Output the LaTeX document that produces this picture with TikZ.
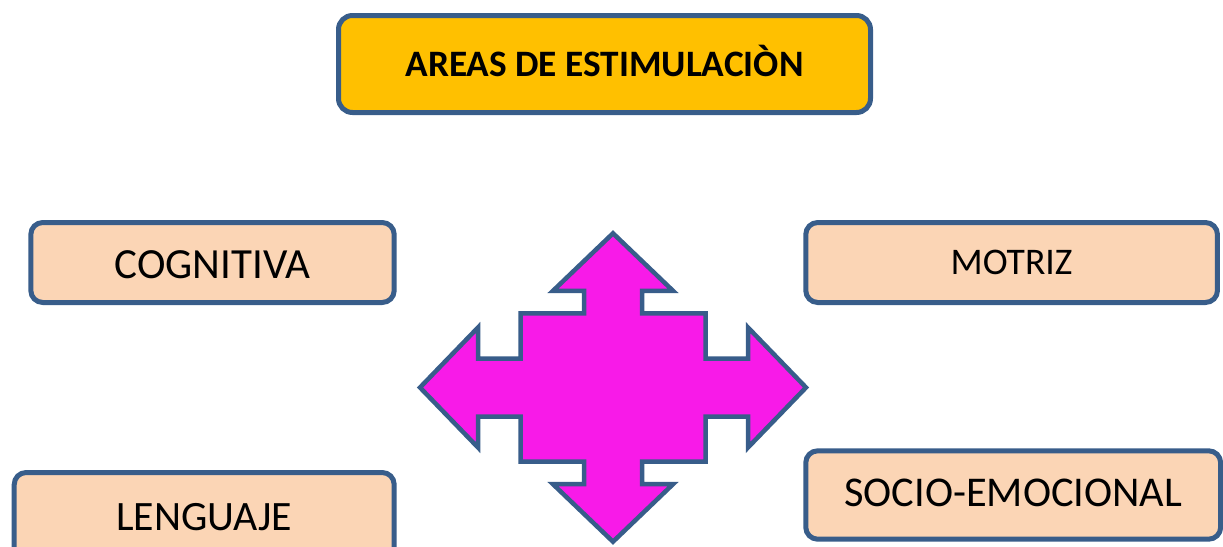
\documentclass[tikz,border=0pt]{standalone}
\usepackage{fontspec}
\setmainfont{Carlito}
\definecolor{edgeblue}{RGB}{56,93,138}
\definecolor{peach}{RGB}{251,213,181}
\definecolor{gold}{RGB}{255,192,0}
\definecolor{magentafill}{RGB}{248,26,232}
\tikzset{
  areabox/.style={draw=edgeblue, line width=5pt, fill=peach, rounded corners=12pt,
    inner sep=0pt, text depth=0pt},
  titlebox/.style={draw=edgeblue, line width=5pt, fill=gold, rounded corners=14pt,
    inner sep=0pt, text height=24pt, text depth=0pt,
    font=\fontsize{37.3}{37.3}\selectfont\bfseries},
  crossshape/.style={draw=edgeblue, line width=4.5pt, fill=magentafill, line join=miter}
}
\begin{document}
\begin{tikzpicture}[x=1pt,y=-1pt]
\clip (0,0) rectangle (1223,546);
\fill[white] (0,0) rectangle (1223,546);

\node[titlebox, minimum width=532pt, minimum height=97pt] (title) at (604.5,64) {AREAS DE ESTIMULACIÒN};

\node[areabox, minimum width=363.4pt, minimum height=80pt, text height=27.7pt,
  font=\fontsize{43}{43}\selectfont] (cog) at (212.5,262.5) {\raisebox{-2.5pt}{COGNITIVA}};
\node[areabox, minimum width=411.7pt, minimum height=80pt, text height=24.2pt,
  font=\fontsize{37.6}{37.6}\selectfont] (mot) at (1011.6,262.5) {MOTRIZ};
\node[areabox, minimum width=414.9pt, minimum height=88.4pt, text height=27.4pt,
  font=\fontsize{42.4}{42.4}\selectfont] (soc) at (1013.2,495) {\raisebox{2.5pt}{SOCIO-EMOCIONAL}};
\node[areabox, minimum width=380pt, minimum height=88pt, text height=27pt,
  font=\fontsize{41.8}{41.8}\selectfont] (len) at (204.2,516.5) {LENGUAJE};

\begin{scope}[shift={(613,387.5)}]
\draw[crossshape] (0,-154.2) -- (60,-96.7) -- (29,-96.7) -- (29,-74.2) -- (92.5,-74.2) -- (92.5,-29)
  -- (135,-29) -- (135,-60) -- (193,0) -- (135,60) -- (135,29) -- (92.5,29) -- (92.5,74.2)
  -- (29,74.2) -- (29,96.7) -- (60,96.7) -- (0,154.2) -- (-60,96.7) -- (-29,96.7) -- (-29,74.2)
  -- (-92.5,74.2) -- (-92.5,29) -- (-135,29) -- (-135,60) -- (-193,0) -- (-135,-60) -- (-135,-29)
  -- (-92.5,-29) -- (-92.5,-74.2) -- (-29,-74.2) -- (-29,-96.7) -- (-60,-96.7) -- cycle;
\end{scope}
\end{tikzpicture}
\end{document}
